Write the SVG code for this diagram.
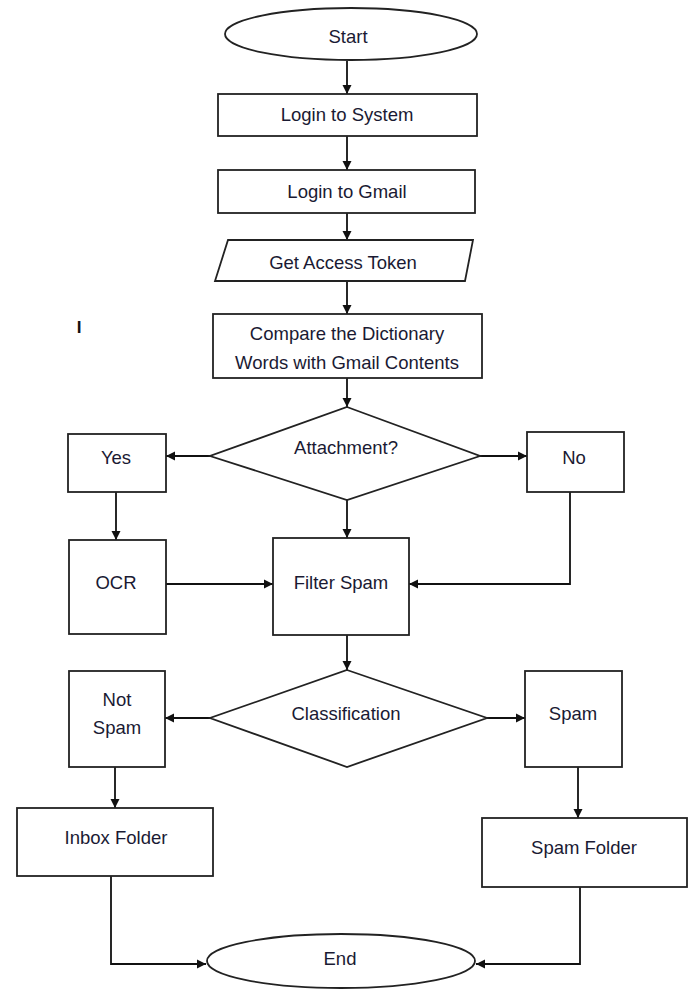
<svg xmlns="http://www.w3.org/2000/svg" width="692" height="989" viewBox="0 0 692 989">
<style>
.s{fill:#fff;stroke:#222;stroke-width:1.8}
.t{font-family:"Liberation Sans",Arial,sans-serif;font-size:18.5px;fill:#1a1a33;text-anchor:middle;dominant-baseline:central}
.c{fill:none;stroke:#111;stroke-width:1.8}
</style>
<defs>
<marker id="ah" markerWidth="10" markerHeight="10" refX="9" refY="5" orient="auto" markerUnits="userSpaceOnUse">
<path d="M0,0.5 L9,5 L0,9.5 Z" fill="#111"/>
</marker>
</defs>
<rect width="692" height="989" fill="#fff"/>
<g id="connectors">
<path class="c" d="M347,61 V94" marker-end="url(#ah)"/>
<path class="c" d="M347,136 V170" marker-end="url(#ah)"/>
<path class="c" d="M347,213 V240" marker-end="url(#ah)"/>
<path class="c" d="M347,281 V314" marker-end="url(#ah)"/>
<path class="c" d="M347,378 V407" marker-end="url(#ah)"/>
<path class="c" d="M210,456 H166" marker-end="url(#ah)"/>
<path class="c" d="M480,456 H527" marker-end="url(#ah)"/>
<path class="c" d="M347,500 V538" marker-end="url(#ah)"/>
<path class="c" d="M116,492 V540" marker-end="url(#ah)"/>
<path class="c" d="M164,584 H273" marker-end="url(#ah)"/>
<path class="c" d="M570,492 V584 H409" marker-end="url(#ah)"/>
<path class="c" d="M347,635 V670" marker-end="url(#ah)"/>
<path class="c" d="M210,718 H165" marker-end="url(#ah)"/>
<path class="c" d="M487,718 H525" marker-end="url(#ah)"/>
<path class="c" d="M115,767 V808" marker-end="url(#ah)"/>
<path class="c" d="M578,767 V818" marker-end="url(#ah)"/>
<path class="c" d="M111,876 V964 H206" marker-end="url(#ah)"/>
<path class="c" d="M580,887 V964 H476" marker-end="url(#ah)"/>
</g>
<g id="start"><ellipse class="s" cx="351" cy="34" rx="126" ry="26"/><text class="t" x="348" y="36">Start</text></g>
<g id="login-system"><rect class="s" x="218" y="94" width="259" height="42"/><text class="t" x="347" y="114">Login to System</text></g>
<g id="login-gmail"><rect class="s" x="218" y="170" width="257" height="43"/><text class="t" x="347" y="191">Login to Gmail</text></g>
<g id="token"><polygon class="s" points="228,240 473,240 465,281 215,281"/><text class="t" x="343" y="262">Get Access Token</text></g>
<g id="mark"><text x="79" y="327" style="font-family:'Liberation Sans',Arial,sans-serif;font-size:17px;font-weight:bold;fill:#111;text-anchor:middle;dominant-baseline:central">I</text></g>
<g id="compare"><rect class="s" x="213" y="314" width="269" height="64"/><text class="t" x="347" y="333">Compare the Dictionary</text><text class="t" x="347" y="362">Words with Gmail Contents</text></g>
<g id="attachment"><polygon class="s" points="347,407 480,456 347,500 210,456"/><text class="t" x="346" y="447">Attachment?</text></g>
<g id="yes"><rect class="s" x="68" y="434" width="98" height="58"/><text class="t" x="116" y="457">Yes</text></g>
<g id="no"><rect class="s" x="527" y="432" width="97" height="60"/><text class="t" x="574" y="457">No</text></g>
<g id="ocr"><rect class="s" x="69" y="540" width="97" height="94"/><text class="t" x="116" y="582">OCR</text></g>
<g id="filter"><rect class="s" x="273" y="538" width="136" height="97"/><text class="t" x="341" y="582">Filter Spam</text></g>
<g id="classification"><polygon class="s" points="347,670 487,718 347,767 210,718"/><text class="t" x="346" y="713">Classification</text></g>
<g id="not-spam"><rect class="s" x="69" y="671" width="96" height="96"/><text class="t" x="117" y="699">Not</text><text class="t" x="117" y="727">Spam</text></g>
<g id="spam"><rect class="s" x="525" y="671" width="97" height="96"/><text class="t" x="573" y="713">Spam</text></g>
<g id="inbox"><rect class="s" x="17" y="808" width="196" height="68"/><text class="t" x="116" y="837">Inbox Folder</text></g>
<g id="spam-folder"><rect class="s" x="482" y="818" width="205" height="69"/><text class="t" x="584" y="847">Spam Folder</text></g>
<g id="end"><ellipse class="s" cx="341" cy="961" rx="134" ry="27"/><text class="t" x="340" y="958">End</text></g>
</svg>
